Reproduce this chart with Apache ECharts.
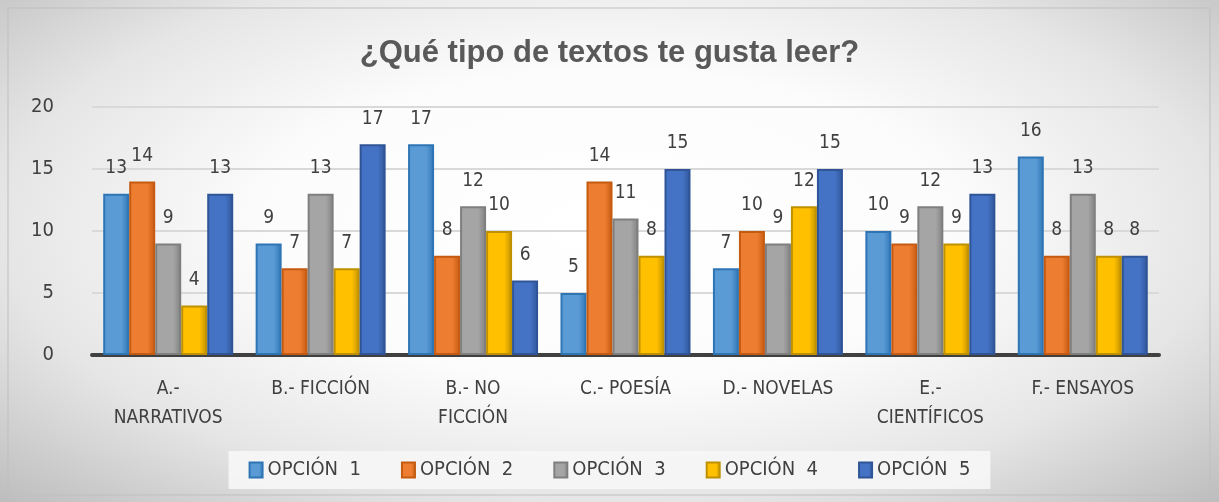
<!DOCTYPE html>
<html>
<head>
<meta charset="utf-8">
<script src="https://cdn.jsdelivr.net/npm/echarts@6/dist/echarts.min.js"></script>
<style>
	html, body { margin: 0; padding: 0; background: #ffffff; }
	#main {
		width: 1219px; height: 502px;
		background: radial-gradient(ellipse farthest-corner at 50% 45%, #ffffff 0%, #fcfcfc 40%, #e6e6e6 70%, #bdbdbd 100%);
	}
</style>
</head>
<body>
<div id="main"></div>
<script>
// categorias y valores
var categories = ['A.-\nNARRATIVOS', 'B.- FICCIÓN', 'B.- NO\nFICCIÓN', 'C.- POESÍA', 'D.- NOVELAS', 'E.-\nCIENTÍFICOS', 'F.- ENSAYOS'];
var seriesNames = ['OPCIÓN  1', 'OPCIÓN  2', 'OPCIÓN  3', 'OPCIÓN  4', 'OPCIÓN  5'];
var opcion1 = [13, 9, 17, 5, 7, 10, 16];
var opcion2 = [14, 7, 8, 14, 10, 9, 8];
var opcion3 = [9, 13, 12, 11, 9, 12, 13];
var opcion4 = [4, 7, 10, 8, 12, 9, 8];
var opcion5 = [13, 17, 6, 15, 15, 13, 8];
var yTicks = [0, 5, 10, 15, 20];

var fills = ['#5B9BD5', '#ED7D31', '#A5A5A5', '#FFC000', '#4472C4'];
var borders = ['#2E75B6', '#C55A11', '#7F7F7F', '#BF9000', '#2F5597'];
var font = '"Liberation Sans Narrow", "DejaVu Sans Condensed", sans-serif';

window.onload = () => {
	var myChart = echarts.init(document.getElementById('main'));

	var data = [opcion1, opcion2, opcion3, opcion4, opcion5];
	var series = data.map(function (vals, i) {
		return {
			name: seriesNames[i],
			type: 'bar',
			data: vals,
			barWidth: 26,
			barGap: '0%',
			itemStyle: {
				color: new echarts.graphic.LinearGradient(0, 0, 1, 0, [
					{ offset: 0, color: fills[i] },
					{ offset: 0.7, color: fills[i] },
					{ offset: 1, color: borders[i] }
				]),
				borderColor: borders[i],
				borderWidth: 2
			},
			label: {
				show: true,
				position: 'top',
				distance: 16,
				color: '#404040',
				fontSize: 19,
				fontFamily: font
			}
		};
	});

	var option = {
		backgroundColor: 'transparent',
		title: {
			text: '¿Qué tipo de textos te gusta leer?',
			left: 'center',
			top: 33,
			textStyle: {
				color: '#595959',
				fontSize: 31,
				fontWeight: 'bold',
				fontFamily: '"Liberation Sans", Arial, sans-serif'
			}
		},
		legend: {
			data: seriesNames,
			bottom: 13,
			left: 'center',
			padding: [9, 20, 9, 20],
			backgroundColor: 'rgba(246,246,246,0.95)',
			itemWidth: 13,
			itemHeight: 15,
			itemGap: 40,
			icon: 'rect',
			textStyle: { color: '#404040', fontSize: 20, fontFamily: font }
		},
		grid: { left: 92, right: 60, top: 107, bottom: 147 },
		xAxis: {
			type: 'category',
			data: categories,
			axisLine: { lineStyle: { color: '#404040', width: 4 } },
			axisTick: { show: false },
			axisLabel: {
				color: '#404040',
				fontSize: 19,
				fontFamily: font,
				lineHeight: 29,
				margin: 20,
				interval: 0
			}
		},
		yAxis: {
			type: 'value',
			min: yTicks[0],
			max: yTicks[yTicks.length - 1],
			interval: 5,
			axisLine: { show: false },
			axisTick: { show: false },
			axisLabel: { color: '#404040', fontSize: 20, fontFamily: font, margin: 38 },
			splitLine: { lineStyle: { color: '#d9d9d9', width: 2 } }
		},
		graphic: [{
			type: 'rect',
			shape: { x: 8, y: 8, width: 1202, height: 487 },
			style: { fill: 'none', stroke: '#bfbfbf', lineWidth: 1 },
			silent: true
		}],
		series: series
	};

	myChart.setOption(option);
	window.addEventListener('resize', function () {
		myChart.resize()
	})
};
</script>
</body>
</html>
